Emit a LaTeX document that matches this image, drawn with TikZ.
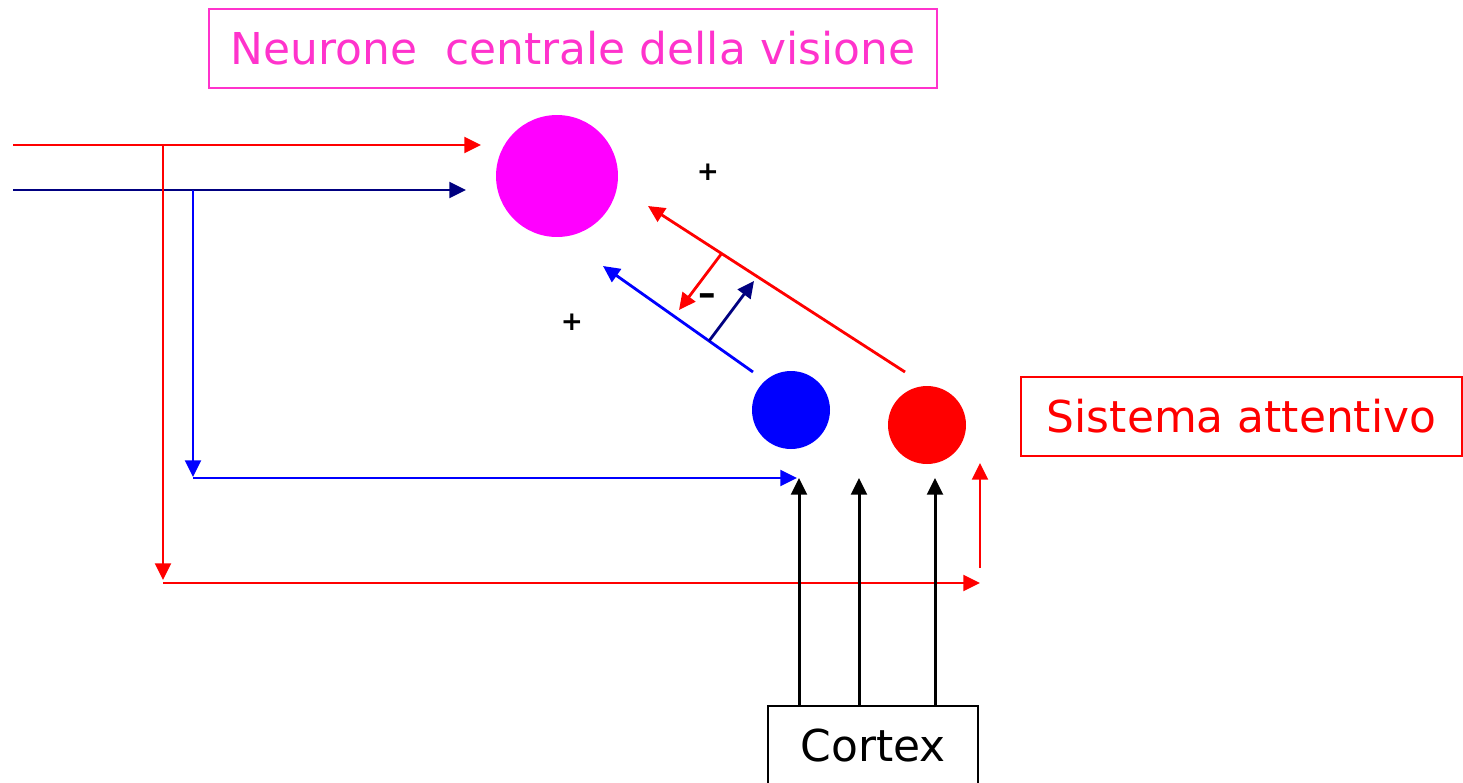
\documentclass[tikz,border=0pt]{standalone}
\usepackage{fontspec}
\setmainfont{DejaVu Sans}
\usetikzlibrary{arrows.meta,positioning,calc}
\definecolor{visionpink}{RGB}{255,51,204}
\definecolor{cellmagenta}{RGB}{255,0,255}
\definecolor{attred}{RGB}{255,0,0}
\definecolor{cellblue}{RGB}{0,0,255}
\definecolor{navyblue}{RGB}{0,0,128}
\begin{document}
\begin{tikzpicture}[
  x=0.02cm,y=-0.02cm,>=Triangle,
  sig/.style={-{Triangle[length=9.5pt,width=9pt]},line width=1.6pt},
  rsig/.style={sig,draw=attred},
  bsig/.style={sig,draw=cellblue},
  nsig/.style={sig,draw=navyblue},
  ksig/.style={sig,draw=black,line width=1.7pt},
  cell/.style={circle,inner sep=0pt,draw=none},
  tag/.style={draw,line width=0.9pt,inner sep=0pt,font=\fontsize{25}{30}\selectfont},
  sign/.style={font=\bfseries\fontsize{15}{18}\selectfont,inner sep=1pt}
]
\useasboundingbox (0,0) rectangle (1463,782);
% ---------- boxes
\node[tag,draw=visionpink,text=visionpink,minimum width=14.56cm,minimum height=1.58cm] (title) at (573,48.5)
  {Neurone\ \ centrale della visione};
\node[tag,draw=attred,text=attred,minimum width=8.82cm,minimum height=1.58cm] (att) at (1241.5,416.5)
  {Sistema attentivo};
\node[tag,draw=black,text=black,minimum width=4.2cm,minimum height=1.6cm,anchor=north] (cortex) at (873,705)
  {Cortex};
% ---------- cells
\node[cell,fill=cellmagenta,minimum size=2.44cm] (vis) at (557,176) {};
\node[cell,fill=cellblue,minimum size=1.56cm] (blu) at (791,410) {};
\node[cell,fill=attred,minimum size=1.56cm] (rosso) at (927,425) {};
% ---------- signs
\node[sign] (p1) at (708,172) {+};
\node[sign] (p2) at (572,322) {+};
\node[sign,font=\bfseries\fontsize{20}{24}\selectfont] (m1) at (707,300) {–};
% ---------- end points
\coordinate (rin) at (13,145);   \coordinate (rtip) at (481,145);
\coordinate (nin) at (13,190);   \coordinate (ntip) at (466,190);
\coordinate (rdown) at (163,145); \coordinate (rcorner) at (163,580);
\coordinate (rlow) at (163,583); \coordinate (rend) at (980,583);
\coordinate (bdown) at (193,190); \coordinate (bcorner) at (193,477);
\coordinate (blow) at (193,478); \coordinate (bend) at (797,478);
\coordinate (rupin) at (980,568); \coordinate (ruptip) at (980,463);
\coordinate (c1) at (799,478); \coordinate (c2) at (859,478); \coordinate (c3) at (935,478);
\coordinate (rdiag) at (905,372); \coordinate (rdtip) at (648,206);
\coordinate (bdiag) at (753,372); \coordinate (bdtip) at (603,266);
\coordinate (rinh) at (722,253); \coordinate (rinhtip) at (679,310);
\coordinate (ninh) at (709,341); \coordinate (ninhtip) at (754,281);
% ---------- arrows
\draw[rsig] (rin) -- (rtip);
\draw[nsig] (nin) -- (ntip);
\draw[rsig] (rdown) -- (rcorner);
\draw[rsig] (rlow) -- (rend);
\draw[bsig] (bdown) -- (bcorner);
\draw[bsig] (blow) -- (bend);
\draw[rsig] (rupin) -- (ruptip);
\foreach \c in {c1,c2,c3}
  \draw[ksig] (cortex.north -| \c) -- (\c);
\draw[rsig] (rdiag) -- (rdtip);
\draw[bsig] (bdiag) -- (bdtip);
\draw[rsig] (rinh) -- (rinhtip);
\draw[nsig] (ninh) -- (ninhtip);
\end{tikzpicture}
\end{document}
